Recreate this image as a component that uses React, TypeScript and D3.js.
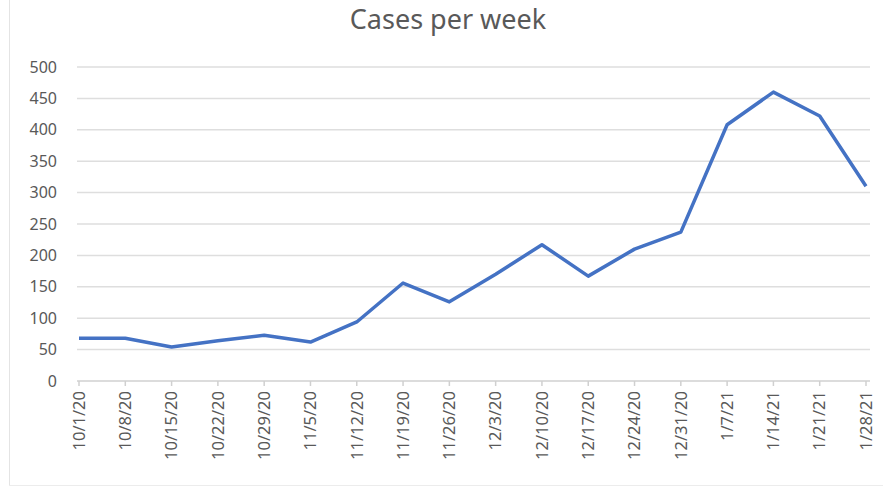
import * as d3 from "d3";
import { useEffect } from "react";

const weeks = [
  "10/1/20", "10/8/20", "10/15/20", "10/22/20", "10/29/20", "11/5/20",
  "11/12/20", "11/19/20", "11/26/20", "12/3/20", "12/10/20", "12/17/20",
  "12/24/20", "12/31/20", "1/7/21", "1/14/21", "1/21/21", "1/28/21",
];
const cases = [68, 68, 54, 64, 73, 62, 94, 156, 126, 170, 217, 167, 210, 237, 408, 460, 422, 310];
const yTicks = [0, 50, 100, 150, 200, 250, 300, 350, 400, 450, 500];

const W = 883;
const H = 488;
const font = "'Noto Sans', 'Open Sans', sans-serif";
const textColor = "#595959";

const App = () => {
  useEffect(() => {
    document.body.style.margin = "0";
  }, []);

  // scales
  const x = d3.scalePoint<string>().domain(weeks).range([79, 866]);
  const y = d3.scaleLinear().domain([0, 500]).range([381, 67]);
  const line = d3
    .line<number>()
    .x((d, i) => x(weeks[i]) as number)
    .y((d) => y(d));

  return (
    <svg width={W} height={H} style={{ display: "block", background: "#fff" }}>
      {/* chart frame */}
      <line x1={9.5} x2={9.5} y1={0} y2={485} stroke="#e4e4e4" />
      <line x1={9} x2={W} y1={485.5} y2={485.5} stroke="#ececec" />

      <text x={448} y={29} textAnchor="middle" fontFamily={font} fontSize={27} fill={textColor}>
        Cases per week
      </text>

      {/* gridlines + y labels */}
      {yTicks.map((t) => (
        <g key={t}>
          {t > 0 && (
            <line x1={77} x2={870} y1={y(t)} y2={y(t)} stroke="#dedede" strokeWidth={1.5} />
          )}
          <text x={57} y={y(t)} dy="0.35em" textAnchor="end" fontFamily={font} fontSize={16} fill={textColor}>
            {t}
          </text>
        </g>
      ))}

      {/* x axis */}
      <line x1={77} x2={870} y1={381} y2={381} stroke="#d0d0d0" strokeWidth={1.5} />
      {weeks.map((w) => (
        <g key={w} transform={`translate(${x(w)},381)`}>
          <line y1={0} y2={5} stroke="#d0d0d0" strokeWidth={1.5} />
          <text
            transform="translate(0,10) rotate(-90)"
            dy="0.35em"
            textAnchor="end"
            fontFamily={font}
            fontSize={16.5}
            fill={textColor}
          >
            {w}
          </text>
        </g>
      ))}

      <path
        d={line(cases) ?? ""}
        fill="none"
        stroke="#4472c4"
        strokeWidth={3.5}
        strokeLinejoin="round"
      />
    </svg>
  );
};

export default App;
